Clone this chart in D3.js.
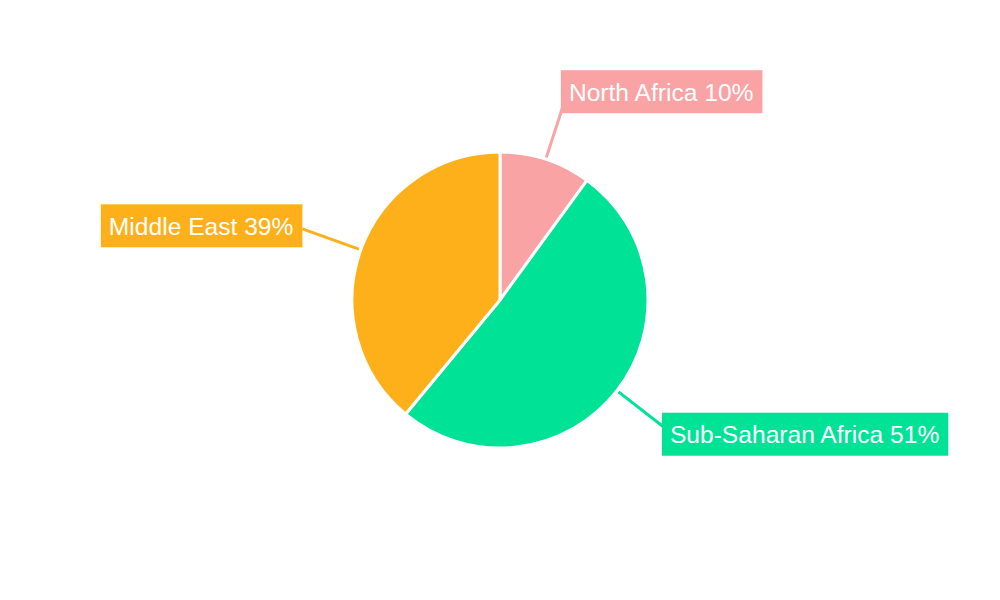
<!DOCTYPE html>
<html>
<head>
<meta charset="utf-8">
<script src="https://cdn.jsdelivr.net/npm/d3@7"></script>
<style>
  body { margin: 0; background: #fff; }
  text { font-family: "Liberation Sans", Arial, sans-serif; }
</style>
</head>
<body>
<svg id="chart" width="1000" height="600"></svg>
<script>
var regions = ["North Africa", "Sub-Saharan Africa", "Middle East"];
var shares = [10, 51, 39];
var colors = ["#F9A3A4", "#00E396", "#FDB01A"];

var width = 1000, height = 600;
var cx = 500, cy = 300, radius = 148;

var svg = d3.select("#chart");
var g = svg.append("g").attr("transform", "translate(" + cx + "," + cy + ")");

var pie = d3.pie().sort(null).value(function(d) { return d.value; });
var arc = d3.arc().innerRadius(0).outerRadius(radius);

var data = regions.map(function(r, i) {
	return { name: r, value: shares[i], color: colors[i] };
});
var arcs = pie(data);

g.selectAll("path.slice")
	.data(arcs)
	.enter()
	.append("path")
	.attr("class", "slice")
	.attr("d", arc)
	.attr("fill", function(d) { return d.data.color; })
	.attr("stroke", "#fff")
	.attr("stroke-width", 3);

// leader lines run radially from just outside the pie
function mid(d) { return (d.startAngle + d.endAngle) / 2; }
g.selectAll("line.leader")
	.data(arcs)
	.enter()
	.append("line")
	.attr("class", "leader")
	.attr("x1", function(d) { return 150 * Math.sin(mid(d)); })
	.attr("y1", function(d) { return -150 * Math.cos(mid(d)); })
	.attr("x2", function(d) { return 210 * Math.sin(mid(d)); })
	.attr("y2", function(d) { return -210 * Math.cos(mid(d)); })
	.attr("stroke", function(d) { return d.data.color; })
	.attr("stroke-width", 3);

// label boxes
var labels = g.selectAll("g.label")
	.data(arcs)
	.enter()
	.append("g")
	.attr("class", "label");

labels.each(function(d) {
	var a = mid(d);
	var lg = d3.select(this);
	var rect = lg.append("rect").attr("fill", d.data.color);
	var txt = lg.append("text")
		.attr("fill", "#fff")
		.style("font-size", "24.6px")
		.text(d.data.name + " " + d.data.value + "%");
	var w = txt.node().getComputedTextLength() + 17;
	var h = 43;
	var ax = 210 * Math.sin(a);
	var ay = -219 * Math.cos(a);
	var left = Math.sin(a) >= 0 ? ax - 4 : ax - w;
	rect.attr("x", left).attr("y", ay - h / 2).attr("width", w).attr("height", h);
	txt.attr("x", left + 8).attr("y", ay + 9);
});
</script>
</body>
</html>
